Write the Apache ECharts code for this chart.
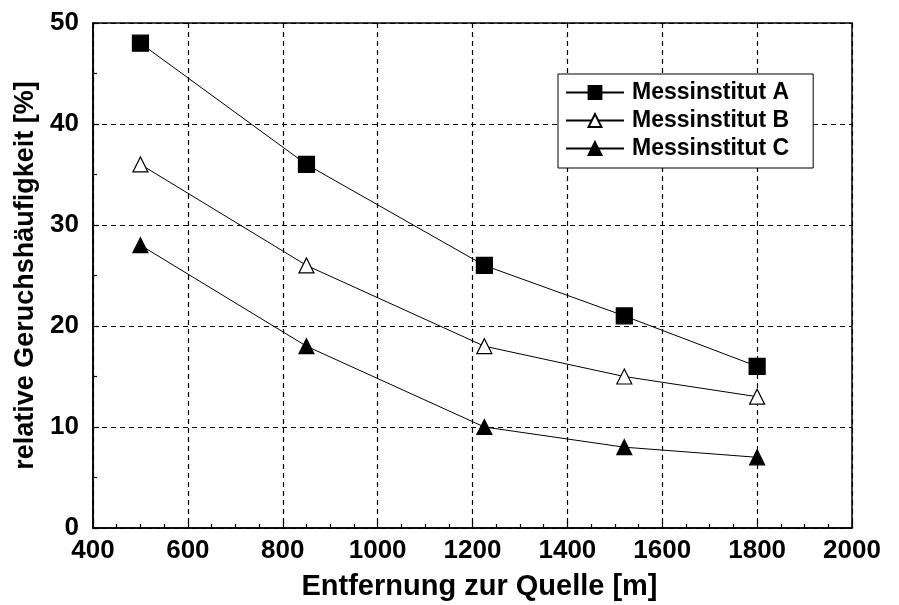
<!DOCTYPE html>
<html>
<head>
<meta charset="utf-8">
<title>relative Geruchshäufigkeit</title>
<script src="https://cdn.jsdelivr.net/npm/echarts@6/dist/echarts.min.js"></script>
<style>
  html, body { margin: 0; padding: 0; background: #fff; }
  #chart { width: 899px; height: 605px; }
</style>
</head>
<body>
<div id="chart"></div>
<script>
// Entfernung zur Quelle [m]
var distances = [500, 850, 1225, 1520, 1800];
// relative Geruchshäufigkeit [%]
var instA = [48, 36, 26, 21, 16];
var instB = [36, 26, 18, 15, 13];
var instC = [28, 18, 10, 8, 7];
var seriesNames = ['Messinstitut A', 'Messinstitut B', 'Messinstitut C'];

var FONT = "'Liberation Sans', Arial, sans-serif";

function pairs(ys) {
    var out = [];
    for (var i = 0; i < distances.length; i++) {
        out.push([distances[i], ys[i]]);
    }
    return out;
}

function makeSeries(name, ys, symbol, size, fill) {
    return {
        name: name,
        type: 'line',
        data: pairs(ys),
        symbol: symbol,
        symbolSize: size,
        showSymbol: true,
        lineStyle: { color: '#000', width: 1 },
        itemStyle: { color: fill, borderColor: '#000', borderWidth: 1.2 },
        emphasis: { disabled: true },
        z: 5
    };
}

var chart = echarts.init(document.getElementById('chart'));

var option = {
    animation: false,
    backgroundColor: '#fff',
    textStyle: { fontFamily: FONT },
    grid: {
        left: 93, top: 23, right: 47, bottom: 77,
        outerBoundsMode: 'none',
        show: true, borderColor: '#000', borderWidth: 1.5
    },
    legend: {
        orient: 'vertical',
        left: 558,
        top: 74,
        padding: [7, 24, 8, 7],
        itemWidth: 58,
        itemHeight: 16,
        itemGap: 5,
        backgroundColor: '#fff',
        borderColor: '#000',
        borderWidth: 1,
        textStyle: { fontFamily: FONT, fontWeight: 'bold', fontSize: 23, color: '#000', padding: [0, 0, 0, 3] },
        data: seriesNames
    },
    xAxis: {
        type: 'value',
        min: 400,
        max: 2000,
        interval: 200,
        name: 'Entfernung zur Quelle [m]',
        nameLocation: 'middle',
        nameGap: 44,
        nameTextStyle: { fontFamily: FONT, fontWeight: 'bold', fontSize: 29, color: '#000', padding: [0, 0, 0, 14] },
        axisLine: { show: true, lineStyle: { color: '#000', width: 1.5 } },
        axisTick: { show: true, inside: true, length: 6, lineStyle: { color: '#000', width: 1.2 } },
        minorTick: { show: true, splitNumber: 4, length: 4, lineStyle: { color: '#000', width: 1.2 } },
        axisLabel: {
            fontFamily: FONT, fontWeight: 'bold', fontSize: 26, color: '#000', margin: 10,
            formatter: function (v) { return String(v); }
        },
        splitLine: { show: true, lineStyle: { color: '#000', type: [5, 4], width: 1.2 } }
    },
    yAxis: {
        type: 'value',
        min: 0,
        max: 50,
        interval: 10,
        name: 'relative Geruchshäufigkeit [%]',
        nameLocation: 'middle',
        nameGap: 44,
        nameTextStyle: { fontFamily: FONT, fontWeight: 'bold', fontSize: 27, color: '#000' },
        axisLine: { show: true, lineStyle: { color: '#000', width: 1.5 } },
        axisTick: { show: true, inside: true, length: 6, lineStyle: { color: '#000', width: 1.2 } },
        minorTick: { show: true, splitNumber: 2, length: 4, lineStyle: { color: '#000', width: 1.2 } },
        axisLabel: { fontFamily: FONT, fontWeight: 'bold', fontSize: 26, color: '#000', margin: 14 },
        splitLine: { show: true, lineStyle: { color: '#000', type: [5, 4], width: 1.2 } }
    },
    series: [
        makeSeries(seriesNames[0], instA, 'rect', 16, '#000'),
        makeSeries(seriesNames[1], instB, 'triangle', 15, '#fff'),
        makeSeries(seriesNames[2], instC, 'triangle', 15, '#000')
    ]
};

chart.setOption(option);
</script>
</body>
</html>
